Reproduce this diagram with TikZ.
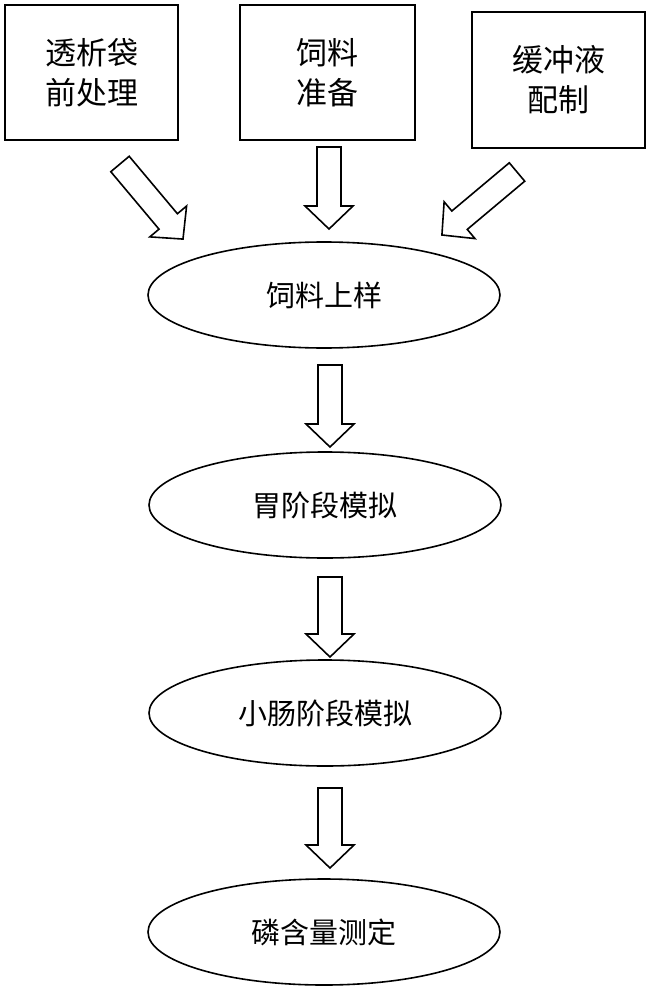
\documentclass[tikz,border=0pt]{standalone}
\usepackage{fontspec}
\setmainfont{Noto Sans CJK SC}
\usetikzlibrary{shapes.geometric}
\newcommand{\blkarr}[4]{% x y angle length
 \draw[line width=1.6pt,line join=miter,shift={(#1,#2)},rotate=#3]
 (0,-12)--(#4-23,-12)--(#4-23,-24)--(#4,0)--(#4-23,24)--(#4-23,12)--(0,12)--cycle;}
\begin{document}
\begin{tikzpicture}[x=1pt,y=-1pt,
 box/.style={draw,line width=2.2pt,inner sep=0,align=center,font=\fontsize{31}{40}\selectfont},
 ell/.style={draw,ellipse,line width=1.6pt,inner sep=0,minimum width=352pt,minimum height=106pt,font=\fontsize{29}{32}\selectfont}]
\useasboundingbox (0,0) rectangle (650,1000);
\node[box,minimum width=173pt,minimum height=135pt] (b1) at (91.5,72.5) {透析袋\\前处理};
\node[box,minimum width=175pt,minimum height=135pt] (b2) at (327.5,72.5) {饲料\\准备};
\node[box,minimum width=173pt,minimum height=136pt] (b3) at (558.5,80) {缓冲液\\配制};
\node[ell] (e1) at (324,295) {饲料上样};
\node[ell] (e2) at (325,505) {胃阶段模拟};
\node[ell] (e3) at (325,713) {小肠阶段模拟};
\node[ell] (e4) at (324,932) {磷含量测定};
\blkarr{329}{147}{-90}{82}
\blkarr{120}{164}{-50}{98}
\blkarr{517}{172}{-140}{98}
\blkarr{330}{365}{-90}{82}
\blkarr{330}{577}{-90}{80}
\blkarr{330}{788}{-90}{80}
\end{tikzpicture}
\end{document}
